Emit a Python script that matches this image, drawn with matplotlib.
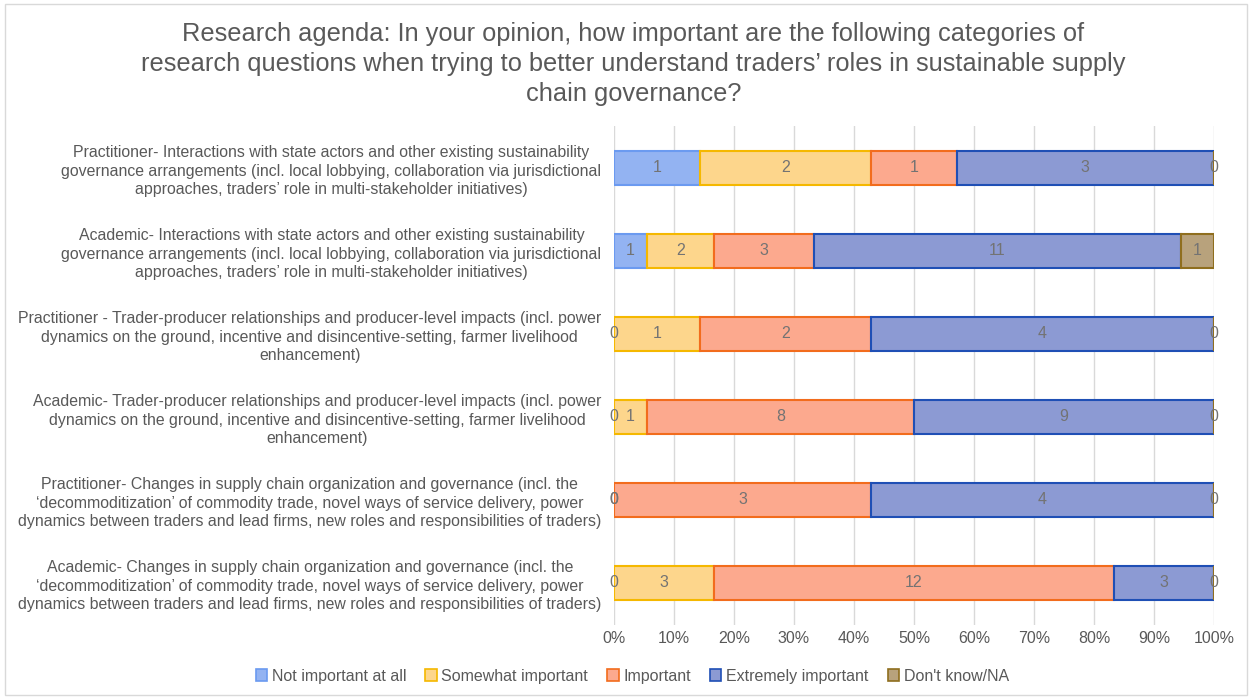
import matplotlib
matplotlib.use('Agg')
import matplotlib.pyplot as plt
import matplotlib.patches as mpatches
import numpy as np
from matplotlib import rcParams

rcParams['font.family'] = 'sans-serif'
rcParams['font.sans-serif'] = ['Liberation Sans', 'DejaVu Sans']

# data, top row first
categories = [
    "Practitioner- Interactions with state actors and other existing sustainability\n"
    "governance arrangements (incl. local lobbying, collaboration via jurisdictional\n"
    "approaches, traders\u2019 role in multi-stakeholder initiatives)",
    "Academic- Interactions with state actors and other existing sustainability\n"
    "governance arrangements (incl. local lobbying, collaboration via jurisdictional\n"
    "approaches, traders\u2019 role in multi-stakeholder initiatives)",
    "Practitioner - Trader-producer relationships and producer-level impacts (incl. power\n"
    "dynamics on the ground, incentive and disincentive-setting, farmer livelihood\n"
    "enhancement)",
    "Academic- Trader-producer relationships and producer-level impacts (incl. power\n"
    "dynamics on the ground, incentive and disincentive-setting, farmer livelihood\n"
    "enhancement)",
    "Practitioner- Changes in supply chain organization and governance (incl. the\n"
    "\u2018decommoditization\u2019 of commodity trade, novel ways of service delivery, power\n"
    "dynamics between traders and lead firms, new roles and responsibilities of traders)",
    "Academic- Changes in supply chain organization and governance (incl. the\n"
    "\u2018decommoditization\u2019 of commodity trade, novel ways of service delivery, power\n"
    "dynamics between traders and lead firms, new roles and responsibilities of traders)",
]
series_names = ["Not important at all", "Somewhat important", "Important",
                "Extremely important", "Don't know/NA"]
not_important = [1, 1, 0, 0, 0, 0]
somewhat = [2, 2, 1, 1, 0, 3]
important = [1, 3, 2, 8, 3, 12]
extremely = [3, 11, 4, 9, 4, 3]
dont_know = [0, 1, 0, 0, 0, 0]
tick_labels = ['0%', '10%', '20%', '30%', '40%', '50%', '60%', '70%', '80%', '90%', '100%']

fills = ['#93b3f2', '#fdd68c', '#fca98e', '#8c9ad3', '#b8a27c']
edges = ['#6b9af0', '#f5b800', '#f26c1d', '#1f4fb5', '#8f6e1e']
text_gray = '#595959'

series = np.array([not_important, somewhat, important, extremely, dont_know], dtype=float)
totals = series.sum(axis=0)
shares = series / totals * 100

fig = plt.figure(figsize=(12.52, 6.98), dpi=100)
ax = fig.add_axes([0.4904, 0.1053, 0.4792, 0.7135])

y = np.arange(len(categories))
left = np.zeros(len(categories))
for i in range(len(series_names)):
    ax.barh(y, shares[i], left=left, height=0.41, color=fills[i],
            edgecolor=edges[i], linewidth=1.5, label=series_names[i], zorder=3)
    for j in range(len(categories)):
        ax.text(left[j] + shares[i][j] / 2., y[j], '%d' % series[i][j],
                ha='center', va='center', fontsize=11.5, color='#737373', zorder=4)
    left = left + shares[i]

ax.set_ylim(len(categories) - 0.5, -0.5)
ax.set_xlim(0, 100)
ax.set_yticks(y)
ax.set_yticklabels(categories, fontsize=11.4, color=text_gray, multialignment='center')
for lab in ax.get_yticklabels():
    lab.set_linespacing(1.3)
ax.set_xticks(np.arange(0, 101, 10))
ax.set_xticklabels(tick_labels, fontsize=11.5, color=text_gray)
ax.tick_params(axis='both', length=0)
ax.tick_params(axis='y', pad=9)
ax.tick_params(axis='x', pad=5)
ax.grid(axis='x', color='#d9d9d9', linewidth=1, zorder=0)
for s in ax.spines.values():
    s.set_visible(False)

fig.suptitle('Research agenda: In your opinion, how important are the following categories of\n'
             'research questions when trying to better understand traders\u2019 roles in sustainable supply\n'
             'chain governance?', x=0.506, y=0.968, fontsize=18.3, color=text_gray, linespacing=1.3)

handles = [mpatches.Patch(facecolor=fills[i], edgecolor=edges[i], linewidth=1.2)
           for i in range(len(series_names))]
fig.legend(handles, series_names, loc='center', bbox_to_anchor=(0.505, 0.0315), ncol=5,
           frameon=False, fontsize=11.5, handlelength=0.7, handleheight=0.7,
           handletextpad=0.3, columnspacing=1.2, labelcolor=text_gray)

fig.patches.append(mpatches.Rectangle((0.004, 0.004), 0.992, 0.99, transform=fig.transFigure,
                                      fill=False, edgecolor='#d9d9d9', linewidth=1))

fig.savefig('out.png', dpi=100)
